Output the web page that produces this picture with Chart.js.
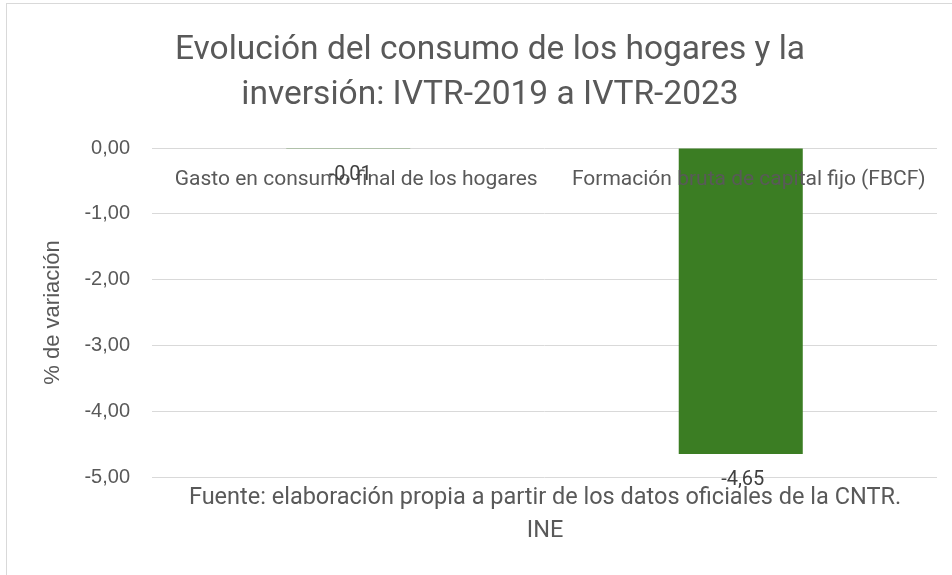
<!DOCTYPE html>
<html>
<head>
<meta charset="utf-8">
<script src="https://cdn.jsdelivr.net/npm/chart.js@4.4.1/dist/chart.umd.min.js"></script>
<style>
  html, body { margin: 0; padding: 0; background: #fff; overflow: hidden; }
  #wrap { position: relative; width: 952px; height: 575px; }
  #marco { position: absolute; left: 6px; top: 3px; width: 980px; height: 620px; border: 1px solid #d9d9d9; box-sizing: border-box; }
  #chart { position: absolute; left: 0; top: 0; }
</style>
</head>
<body>
<div id="wrap">
  <div id="marco"></div>
  <canvas id="chart" width="952" height="575"></canvas>
</div>
<script>
// Datos del gráfico
const categorias = ['Gasto en consumo final de los hogares', 'Formación bruta de capital fijo (FBCF)'];
const variacion = [-0.01, -4.65];
const titulo = ['Evolución del consumo de los hogares y la', 'inversión: IVTR-2019 a IVTR-2023'];
const fuente = ['Fuente: elaboración propia a partir de los datos oficiales de la CNTR.', 'INE'];

const fmt = v => v.toFixed(2).replace('.', ',');

// Dibuja título, etiquetas de categoría, etiquetas de datos y fuente
const textos = {
    id: 'textos',
    afterDatasetsDraw(chart) {
        const c = chart.ctx;
        const x = chart.scales.x;
        const y = chart.scales.y;
        c.save();
        c.textAlign = 'center';
        c.textBaseline = 'middle';

        // título
        c.fillStyle = '#595959';
        c.font = '33.5px Roboto';
        c.fillText(titulo[0], 490, 51);
        c.fillText(titulo[1], 490, 96);

        // categorías
        c.font = '21px Roboto';
        categorias.forEach((cat, i) => {
            c.fillText(cat, x.getPixelForValue(i) + 8, y.getPixelForValue(0) + 32);
        });

        // etiquetas de datos
        c.fillStyle = '#404040';
        c.font = '20px Roboto';
        const meta = chart.getDatasetMeta(0);
        meta.data.forEach((bar, i) => {
            c.fillText(fmt(variacion[i]), bar.x + 2, bar.y + 26);
        });

        // fuente
        c.fillStyle = '#595959';
        c.font = '23.5px Roboto';
        c.fillText(fuente[0], 545, 498);
        c.fillText(fuente[1], 545, 531);
        c.restore();
    }
};

const ctx = document.getElementById('chart').getContext('2d');
const myChart = new Chart(ctx, {
    type: 'bar',
    data: {
        labels: categorias,
        datasets: [{
            label: '% de variación',
            data: variacion,
            backgroundColor: '#3b7d23',
            borderWidth: 0,
            categoryPercentage: 1,
            barPercentage: 0.316
        }]
    },
    options: {
        responsive: false,
        animation: false,
        layout: { padding: { top: 148, right: 15, bottom: 98, left: 0 } },
        plugins: {
            legend: { display: false },
            tooltip: { enabled: false }
        },
        scales: {
            x: { display: false },
            y: {
                min: -5,
                max: 0,
                afterFit(scale) { scale.width = 152; },
                border: { display: false },
                grid: { color: '#d9d9d9', lineWidth: 1, drawTicks: false },
                ticks: {
                    stepSize: 1,
                    padding: 22,
                    color: '#595959',
                    font: { family: 'Liberation Sans', size: 20 },
                    callback: v => fmt(v)
                },
                title: {
                    display: true,
                    text: '% de variación',
                    color: '#595959',
                    font: { family: 'Liberation Sans', size: 22 },
                    padding: { top: 40, bottom: 0 }
                }
            }
        }
    },
    plugins: [textos]
});
</script>
</body>
</html>
